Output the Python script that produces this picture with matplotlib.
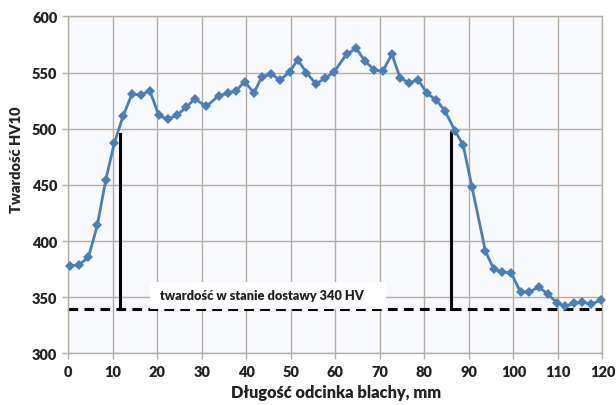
import matplotlib
matplotlib.use("Agg")
import matplotlib.pyplot as plt
from matplotlib.patches import Rectangle

plt.rcParams['font.family'] = ['Lato', 'DejaVu Sans']
plt.rcParams['lines.scale_dashes'] = False

# Data
position_mm = [0.4, 2.4, 4.5, 6.5, 8.4, 10.3, 12.3, 14.3, 16.3, 18.3, 20.3, 22.3, 24.4, 26.4, 28.4,
               31.0, 33.8, 35.8, 37.7, 39.6, 41.7, 43.5, 45.6, 47.6, 49.7, 51.5, 53.5, 55.6, 57.7, 59.7,
               62.5, 64.7, 66.7, 68.7, 70.6, 72.7, 74.5, 76.5, 78.6, 80.6, 82.7, 84.6, 86.9, 88.7,
               90.7, 93.7, 95.6, 97.5, 99.5, 101.6, 103.6, 105.7, 107.7, 109.8, 111.6, 113.5, 115.5, 117.5, 119.7]
hardness_hv10 = [378, 379, 385.5, 414, 454.5, 487, 511.5, 531, 530, 534, 512, 508.5, 512, 519, 526.5,
                 520, 529.5, 531.5, 534, 542, 532, 546.5, 548.5, 543.5, 550.5, 561.5, 550, 540, 545, 550.5,
                 566.5, 571.5, 560, 552.5, 551, 566.5, 545.5, 541, 543.5, 531.5, 525.5, 516, 498, 485.5,
                 448, 391, 375, 372.5, 371.5, 354.5, 355, 359, 353, 345, 342, 344.5, 345.5, 344, 347.5]

delivery_hardness = 340
zone_edges_mm = [11.7, 85.9]
zone_tops_hv = [495, 497]
annotation = "twardość w stanie dostawy 340 HV"

x_ticks = list(range(0, 121, 10))
y_ticks = list(range(300, 601, 50))

fig = plt.figure(figsize=(6.16, 4.06), dpi=100)
ax = fig.add_axes([0.111, 0.127, 0.867, 0.830])
ax.set_facecolor('#f7f9fc')

grid_c = '#b5aca6'
ax.set_xlim(0, 120)
ax.set_ylim(300, 600)
ax.set_xticks(x_ticks)
ax.set_yticks(y_ticks)
ax.grid(True, color=grid_c, linewidth=1.0)
ax.set_axisbelow(True)
for s in ax.spines.values():
    s.set_color(grid_c)
    s.set_linewidth(1.0)
ax.tick_params(axis='both', direction='out', length=4, color=grid_c, width=1.0,
               labelsize=10.5, labelcolor='#222222', pad=4)
for lab in ax.get_xticklabels() + ax.get_yticklabels():
    lab.set_fontweight('heavy')

# reference hardness (dashed)
ax.plot([0, 120], [delivery_hardness, delivery_hardness], color='black', linewidth=2.2,
        dashes=(7, 4.5), zorder=2, clip_on=False)

# label box and text
ax.add_patch(Rectangle((18.3, delivery_hardness - 0.5), 53.0, 24.0, facecolor='white',
                       edgecolor='none', zorder=3))
ax.text(43.5, 352, annotation, ha='center', va='center', fontsize=9.2,
        fontweight='heavy', color='#222222', zorder=4)

# vertical zone lines
for xe, yt in zip(zone_edges_mm, zone_tops_hv):
    ax.plot([xe, xe], [delivery_hardness, yt], color='black', linewidth=2.2, zorder=5)

# data series
ax.plot(position_mm, hardness_hv10, color='#4a7ebb', linewidth=2.0, marker='D',
        markersize=5.5, markeredgewidth=0, zorder=6, clip_on=False)

ax.set_ylabel('Twardość HV10', fontsize=10.5, fontweight='heavy', color='#222222')
ax.yaxis.set_label_coords(-0.085, 0.577)
ax.set_xlabel('Długość odcinka blachy, mm', fontsize=11.8, fontweight='heavy', color='#222222')
ax.xaxis.label.set_va('center')
ax.xaxis.set_label_coords(0.501, -0.113)

fig.savefig('out.png', dpi=100, facecolor='white')
